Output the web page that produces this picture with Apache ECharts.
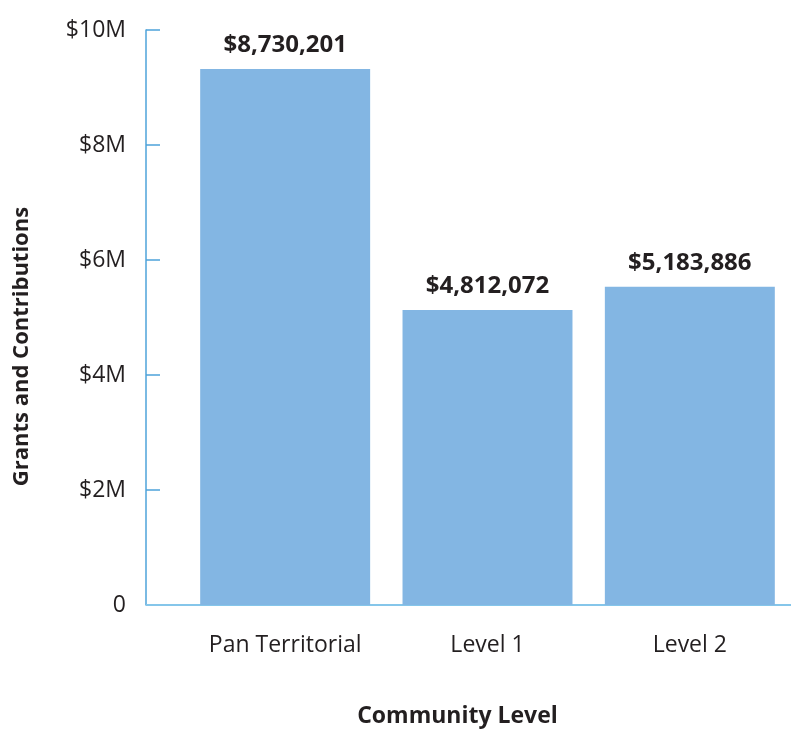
<!DOCTYPE html>
<html>
<head>
<meta charset="utf-8">
<script src="https://cdn.jsdelivr.net/npm/echarts@6/dist/echarts.min.js"></script>
<style>
  html, body { margin: 0; padding: 0; background: #fff; }
  #main { width: 791px; height: 734px; }
</style>
</head>
<body>
<div id="main"></div>
<script>
// 数据
var categories = ['Pan Territorial', 'Level 1', 'Level 2'];
// 柱子高度（按图上量出来的）
var barValues = [9320000, 5130000, 5535000];
// 柱顶标签上印的金额
var labelAmounts = [8730201, 4812072, 5183886];
var yTicks = [0, 2000000, 4000000, 6000000, 8000000, 10000000];

function fmtMoney(v) {
    return '$' + String(v).replace(/\B(?=(\d{3})+(?!\d))/g, ',');
}

var myChart = echarts.init(document.getElementById('main'));
var font = 'Open Sans';

var option = {
    animation: false,
    textStyle: { fontFamily: font },
    grid: { left: 184, right: 0, top: 30, bottom: 129 },
    xAxis: {
        type: 'category',
        data: categories,
        name: 'Community Level',
        nameLocation: 'middle',
        nameGap: 100,
        nameTextStyle: { fontFamily: font, fontSize: 23, fontWeight: 'bold', color: '#231f20', padding: [0, 60, 0, 0] },
        axisLine: { lineStyle: { color: '#85c6ea', width: 2 } },
        axisTick: { show: false },
        axisLabel: { fontFamily: font, fontSize: 23, color: '#231f20', margin: 29 }
    },
    yAxis: {
        type: 'value',
        min: 0,
        max: 10000000,
        interval: 2000000,
        offset: 38,
        name: 'Grants and Contributions',
        nameLocation: 'middle',
        nameGap: 113,
        nameRotate: 90,
        nameTextStyle: { fontFamily: font, fontSize: 22, fontWeight: 'bold', color: '#231f20', padding: [0, 58, 0, 0] },
        axisLine: { show: true, lineStyle: { color: '#4ea3da', width: 1.5 } },
        axisTick: { show: true, inside: true, length: 14, lineStyle: { color: '#4ea3da', width: 1.5 } },
        splitLine: { show: false },
        axisLabel: {
            fontFamily: font, fontSize: 23, color: '#231f20', margin: 20,
            formatter: function (v) {
                if (yTicks.indexOf(v) < 0) return '';
                return v === 0 ? '0' : '$' + (v / 1000000) + 'M';
            }
        }
    },
    series: [{
        type: 'bar',
        data: barValues,
        barCategoryGap: '16%',
        itemStyle: { color: '#83b6e3' },
        label: {
            show: true,
            position: 'top',
            distance: 12,
            fontFamily: font,
            fontSize: 24,
            fontWeight: 'bold',
            color: '#231f20',
            formatter: function (p) { return fmtMoney(labelAmounts[p.dataIndex]); }
        }
    }]
};

myChart.setOption(option);

// x轴线向左补到y轴
var p0 = myChart.convertToPixel({ gridIndex: 0 }, [0, 0]);
myChart.setOption({
    graphic: [{
        type: 'line',
        shape: { x1: 146, y1: p0[1], x2: 185, y2: p0[1] },
        style: { stroke: '#85c6ea', lineWidth: 2 },
        z: 5
    }]
});
</script>
</body>
</html>
